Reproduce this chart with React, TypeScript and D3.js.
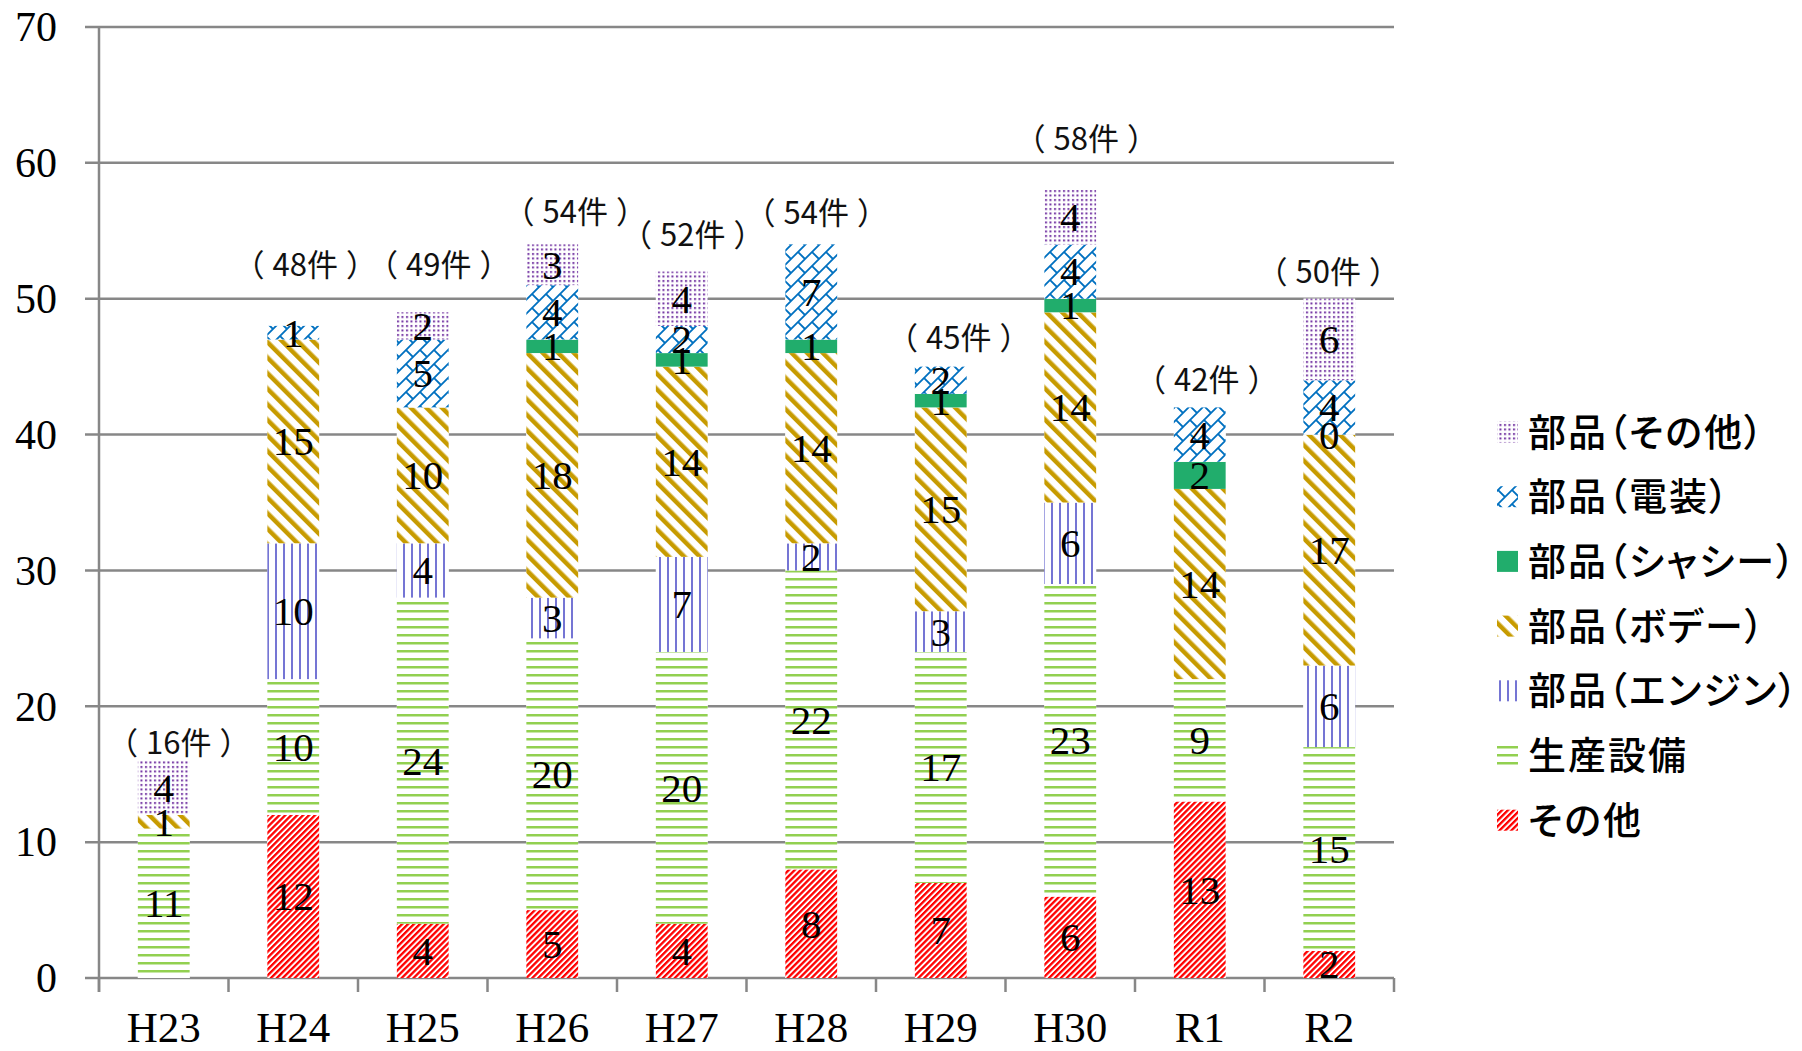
import React from 'react';
import * as d3 from 'd3';

// categories and series (件数), bottom of stack first
const categories = ['H23', 'H24', 'H25', 'H26', 'H27', 'H28', 'H29', 'H30', 'R1', 'R2'];
const sonota = [null, 12, 4, 5, 4, 8, 7, 6, 13, 2];
const seisanSetsubi = [11, 10, 24, 20, 20, 22, 17, 23, 9, 15];
const buhinEngine = [null, 10, 4, 3, 7, 2, 3, 6, null, 6];
const buhinBody = [1, 15, 10, 18, 14, 14, 15, 14, 14, 17];
const buhinChassis = [null, null, null, 1, 1, 1, 1, 1, 2, 0];
const buhinDenso = [null, 1, 5, 4, 2, 7, 2, 4, 4, 4];
const buhinSonota = [4, null, 2, 3, 4, null, null, 4, null, 6];

const yTicks = [0, 10, 20, 30, 40, 50, 60, 70];

// where the hand-placed total labels sit (value units) and their sideways nudge (px)
const totalLabelAt = [17.3, 52.5, 52.5, 56.4, 54.7, 56.3, 47.1, 61.8, 44.0, 52.0];
const totalLabelNudge = [15, 12, 16, 23, 11, 5, 18, 16, 7, -1];

const series = [
  { key: 'sonota', name: 'その他', values: sonota, fill: 'url(#p-red)' },
  { key: 'seisan', name: '生産設備', values: seisanSetsubi, fill: 'url(#p-green)' },
  { key: 'engine', name: '部品（エンジン）', values: buhinEngine, fill: 'url(#p-engine)' },
  { key: 'body', name: '部品（ボデー）', values: buhinBody, fill: 'url(#p-body)' },
  { key: 'chassis', name: '部品（シャシー）', values: buhinChassis, fill: '#21AD6C' },
  { key: 'denso', name: '部品（電装）', values: buhinDenso, fill: 'url(#p-denso)' },
  { key: 'bsonota', name: '部品（その他）', values: buhinSonota, fill: 'url(#p-dots)' },
];

const W = 1802;
const H = 1051;
const margin = { top: 27, left: 99, right: 408, bottom: 73 };

const SERIF = '"Liberation Serif", "Times New Roman", serif';
const SANS = '"Noto Sans CJK JP", "Noto Sans", sans-serif';

export default function App() {
  const x = d3
    .scaleBand<string>()
    .domain(categories)
    .range([margin.left, W - margin.right])
    .paddingInner(0.6)
    .paddingOuter(0.3);

  const y = d3
    .scaleLinear()
    .domain([0, 70])
    .range([H - margin.bottom, margin.top]);

  const table = categories.map((c, i) => {
    const row: Record<string, any> = { cat: c };
    series.forEach((s) => (row[s.key] = s.values[i] ?? 0));
    return row;
  });
  const stacked = d3.stack<Record<string, any>>().keys(series.map((s) => s.key))(table);

  const totals = categories.map((_, i) => d3.sum(series, (s) => s.values[i] ?? 0));
  const step = x.step();
  const x0 = margin.left;
  const x1 = W - margin.right;
  const gridColor = '#878787';

  return (
    <svg width={W} height={H} style={{ display: 'block', background: '#fff' }}>
      <style>{`body{margin:0}`}</style>
      <defs>
        <pattern id="p-red" width="4.2" height="4.2" patternUnits="userSpaceOnUse" patternTransform="rotate(45)">
          <rect width="4.2" height="4.2" fill="#fff" />
          <rect width="2.3" height="4.2" fill="#FF0000" />
        </pattern>
        <pattern id="p-green" width="8" height="8" patternUnits="userSpaceOnUse">
          <rect width="8" height="8" fill="#fff" />
          <rect y="2" width="8" height="2.5" fill="#92D050" />
        </pattern>
        <pattern id="p-engine" width="8" height="8" patternUnits="userSpaceOnUse">
          <rect width="8" height="8" fill="#fff" />
          <rect x="3" width="2" height="8" fill="#7575D4" />
        </pattern>
        <pattern id="p-body" width="11" height="11" patternUnits="userSpaceOnUse" patternTransform="rotate(-45)">
          <rect width="11" height="11" fill="#fff" />
          <rect width="4.5" height="11" fill="#C79B00" />
        </pattern>
        <pattern id="p-denso" width="14" height="14" patternUnits="userSpaceOnUse">
          <rect width="14" height="14" fill="#fff" />
          <path d="M0,14 L14,0 M0,0 L7,7 M-1,1 L1,-1 M13,15 L15,13" stroke="#0070C0" strokeWidth="1.8" fill="none" />
        </pattern>
        <pattern id="p-dots" width="4.5" height="4.5" patternUnits="userSpaceOnUse">
          <rect width="4.5" height="4.5" fill="#fff" />
          <rect x="1" y="1" width="2" height="2" fill="#7030A0" />
        </pattern>
      </defs>

      {/* horizontal gridlines with left tick stubs */}
      {yTicks.map((t) => (
        <line key={t} x1={x0 - 14} x2={x1} y1={y(t)} y2={y(t)} stroke={gridColor} strokeWidth={2.5} />
      ))}
      {yTicks.map((t) => (
        <text
          key={'l' + t}
          x={57}
          y={y(t)}
          dy="0.34em"
          textAnchor="end"
          fontFamily={SERIF}
          fontSize={42}
          fill="#000"
        >
          {t}
        </text>
      ))}

      {/* bars */}
      {stacked.map((layer, si) => (
        <g key={layer.key}>
          {layer.map((d, i) => {
            const h = y(d[0]) - y(d[1]);
            if (h <= 0) return null;
            return (
              <g key={i}>
                <rect x={x(categories[i])} y={y(d[1])} width={x.bandwidth()} height={h} fill="#fff" />
                <rect x={x(categories[i])} y={y(d[1])} width={x.bandwidth()} height={h} fill={series[si].fill} />
              </g>
            );
          })}
        </g>
      ))}

      {/* axes */}
      <line x1={x0} x2={x0} y1={y(70)} y2={y(0) + 14} stroke={gridColor} strokeWidth={2.5} />
      {d3.range(categories.length + 1).map((k) => (
        <line
          key={'xt' + k}
          x1={x0 + k * step}
          x2={x0 + k * step}
          y1={y(0)}
          y2={y(0) + 14}
          stroke={gridColor}
          strokeWidth={2.5}
        />
      ))}
      {categories.map((c) => (
        <text
          key={'xl' + c}
          x={(x(c) ?? 0) + x.bandwidth() / 2}
          y={1042}
          textAnchor="middle"
          fontFamily={SERIF}
          fontSize={43}
          fill="#000"
        >
          {c}
        </text>
      ))}

      {/* segment value labels */}
      {stacked.map((layer, si) => (
        <g key={'v' + layer.key}>
          {layer.map((d, i) => {
            const v = series[si].values[i];
            if (v === null || v === undefined) return null;
            return (
              <text
                key={i}
                x={(x(categories[i]) ?? 0) + x.bandwidth() / 2}
                y={y((d[0] + d[1]) / 2)}
                dy="0.34em"
                textAnchor="middle"
                fontFamily={SERIF}
                fontSize={41}
                fill="#000"
              >
                {v}
              </text>
            );
          })}
        </g>
      ))}

      {/* totals */}
      {categories.map((c, i) => (
        <text
          key={'t' + c}
          x={(x(c) ?? 0) + x.bandwidth() / 2 + totalLabelNudge[i]}
          y={y(totalLabelAt[i])}
          dy="0.36em"
          textAnchor="middle"
          fontFamily={SANS}
          fontSize={31}
          fill="#111"
        >
          <tspan>（</tspan>
          <tspan dx={8}>{`${totals[i]}件`}</tspan>
          <tspan dx={8}>）</tspan>
        </text>
      ))}

      {/* legend */}
      {series
        .slice()
        .reverse()
        .map((s, k) => {
          const cy = 432 + k * 64.7;
          return (
            <g key={'lg' + s.key}>
              <rect x={1497} y={cy - 10.5} width={21} height={21} fill="#fff" />
              <rect x={1497} y={cy - 10.5} width={21} height={21} fill={s.fill} />
              <text
                x={1528}
                y={cy}
                dy="0.36em"
                fontFamily={SANS}
                fontSize={38}
                fontWeight={500}
                letterSpacing={2}
                style={{ fontFeatureSettings: '"palt"' }}
                fill="#000"
              >
                {s.name}
              </text>
            </g>
          );
        })}
    </svg>
  );
}
